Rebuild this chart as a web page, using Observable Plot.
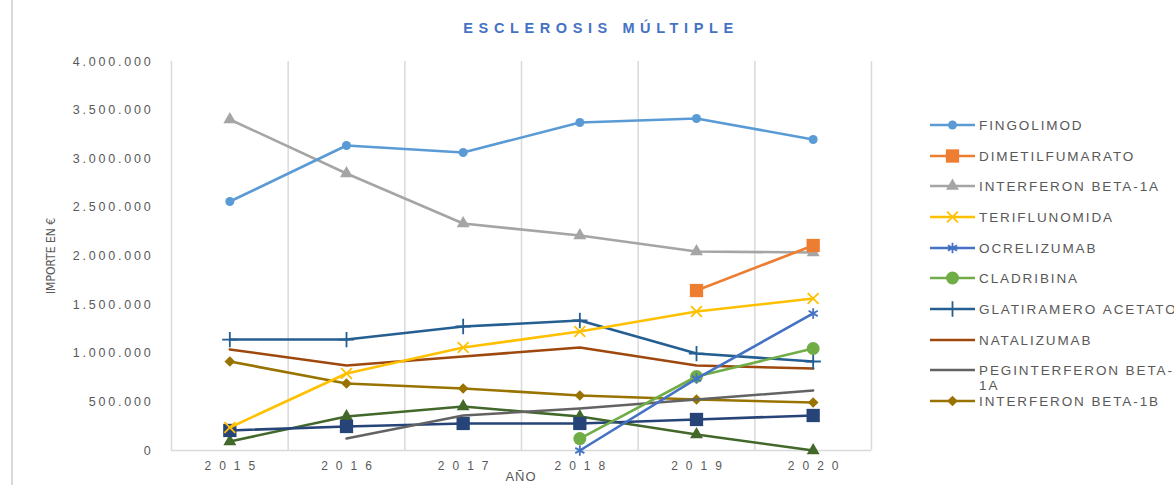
<!DOCTYPE html>
<html>
<head>
<meta charset="utf-8">
<script src="https://cdn.jsdelivr.net/npm/d3@7"></script>
<script src="https://cdn.jsdelivr.net/npm/@observablehq/plot@0.6"></script>
<style>
html,body{margin:0;padding:0;background:#fff;overflow:hidden}
#wrap{position:relative;width:1174px;height:485px;overflow:hidden;font-family:Arial,"Liberation Sans",sans-serif;color:#595959}
#frame{position:absolute;left:11px;top:-5px;width:1300px;height:600px;border-left:2px solid #d9d9d9}
#title{position:absolute;left:14px;top:20px;width:1174px;text-align:center;font-size:14.5px;font-weight:bold;letter-spacing:5.6px;color:#4472C4}
#chart{position:absolute;left:0;top:0}
#ytitle{position:absolute;left:51px;top:256px;transform:translate(-50%,-50%) rotate(-90deg);font-family:"Liberation Sans Narrow","DejaVu Sans Condensed",Arial,sans-serif;font-size:12px;white-space:nowrap;color:#595959}
#xtitle{position:absolute;left:521px;top:469px;transform:translateX(-50%);font-size:13px;line-height:15px;letter-spacing:1px;color:#595959}
.lg{position:absolute;left:929px;height:18px;width:260px}
.lg svg{position:absolute;left:0;top:0}
.lg span{position:absolute;left:50px;top:0;width:194px;font-size:13.5px;line-height:15px;letter-spacing:1.9px;color:#595959;white-space:normal}
</style>
</head>
<body>
<div id="wrap">
  <div id="frame"></div>
  <div id="chart"></div>
  <div id="title">ESCLEROSIS MÚLTIPLE</div>
  <div id="ytitle">IMPORTE EN €</div>
  <div id="xtitle">AÑO</div>
  <div id="legend"></div>
</div>
<script>
// ---- Data ----
const years = [2015, 2016, 2017, 2018, 2019, 2020];
const yTicks = [0, 500000, 1000000, 1500000, 2000000, 2500000, 3000000, 3500000, 4000000];

const fingolimod       = [2560000, 3136000, 3064000, 3373000, 3414000, 3198000];
const dimetilfumarato  = [null, null, null, null, 1645000, 2108000];
const interferonB1a    = [3404000, 2848000, 2334000, 2211000, 2046000, 2036000];
const teriflunomida    = [237000, 792000, 1059000, 1224000, 1429000, 1563000];
const ocrelizumab      = [null, null, null, 0, 740000, 1409000];
const cladribina       = [null, null, null, 123000, 761000, 1049000];
const glatiramero      = [1141000, 1141000, 1275000, 1337000, 997000, 915000];
const natalizumab      = [1039000, 874000, 967000, 1059000, 874000, 843000];
const peginterferon    = [null, 123000, 360000, 432000, 524000, 617000];
const interferonB1b    = [915000, 689000, 638000, 566000, 524000, 494000];
const serie11          = [206000, 247000, 278000, 278000, 319000, 360000];
const serie12          = [93000, 350000, 452000, 350000, 165000, 0];

const seriesNames = ["FINGOLIMOD", "DIMETILFUMARATO", "INTERFERON BETA-1A", "TERIFLUNOMIDA",
  "OCRELIZUMAB", "CLADRIBINA", "GLATIRAMERO ACETATO", "NATALIZUMAB",
  "PEGINTERFERON BETA-1A", "INTERFERON BETA-1B", "SERIE 11", "SERIE 12"];
const seriesValues = [fingolimod, dimetilfumarato, interferonB1a, teriflunomida,
  ocrelizumab, cladribina, glatiramero, natalizumab, peginterferon, interferonB1b, serie11, serie12];
const seriesColors = ["#5B9BD5", "#ED7D31", "#A5A5A5", "#FFC000", "#4472C4", "#70AD47",
  "#255E91", "#9E480E", "#636363", "#997300", "#264478", "#43682B"];
const seriesSymbols = ["circle", "square", "triangle", "times", "asterisk", "circle",
  "plus", null, null, "diamond2", "square", "triangle"];
const seriesR = [4.5, 7.5, 4.8, 5, 5, 6.5, 5, 0, 0, 4.8, 7.5, 4.8];
const legendCount = 10;

// ---- Build rows ----
const rows = [];
seriesNames.forEach((name, i) => {
  seriesValues[i].forEach((v, j) => {
    if (v != null) rows.push({serie: name, year: years[j], value: v});
  });
});
const gridX = [years[0] - 0.5, ...years.map(y => y + 0.5)];

const locale = d3.formatLocale({decimal: ",", thousands: ".", grouping: [3], currency: ["", "€"]});
const fmt = locale.format(",.0f");
const strokeSymbols = new Set(["times", "asterisk", "plus"]);

const marks = [
  Plot.ruleX(gridX.slice(1), {stroke: "#d9d9d9", strokeWidth: 1.5}),
  Plot.ruleX(gridX.slice(0, 1), {stroke: "#d9d9d9", strokeWidth: 1.5}),
  Plot.ruleY([0], {stroke: "#d9d9d9", strokeWidth: 1.5})
];
const order = [11, 10, 9, 8, 7, 6, 5, 4, 3, 2, 1, 0];
order.forEach(i => {
  const name = seriesNames[i];
  const data = rows.filter(d => d.serie === name);
  marks.push(Plot.line(data, {x: "year", y: "value", stroke: seriesColors[i], strokeWidth: 2.6}));
  const s = seriesSymbols[i];
  if (s) {
    if (strokeSymbols.has(s)) {
      marks.push(Plot.dot(data, {x: "year", y: "value", symbol: () => s, r: seriesR[i], stroke: seriesColors[i], strokeWidth: 1.8, fill: "none"}));
    } else {
      marks.push(Plot.dot(data, {x: "year", y: "value", symbol: () => s, r: seriesR[i], fill: seriesColors[i], stroke: "none"}));
    }
  }
});

const chart = Plot.plot({
  width: 900,
  height: 485,
  marginLeft: 171,
  marginRight: 29,
  marginTop: 61,
  marginBottom: 35,
  style: {fontFamily: "Arial, 'Liberation Sans', sans-serif", fontSize: "12px", color: "#595959", background: "transparent", overflow: "visible"},
  x: {type: "linear", domain: [years[0] - 0.5, years[years.length - 1] + 0.5], ticks: years, tickFormat: d => String(d), tickSize: 0, tickPadding: 11, label: null},
  y: {domain: [0, 4000000], ticks: yTicks, tickFormat: fmt, tickSize: 0, tickPadding: 20, label: null},
  symbol: {type: "identity"},
  marks
});
document.getElementById("chart").appendChild(chart);

// axis label styling
d3.select(chart).selectAll('[aria-label="x-axis tick label"] text').style("letter-spacing", "8px").attr("dx", 4).style("font-size", "12px");
d3.select(chart).selectAll('[aria-label="y-axis tick label"] text').style("letter-spacing", "2.8px").attr("dx", 2).style("font-size", "12.5px");

// ---- Legend ----
const legend = document.getElementById("legend");
const symMap = {circle: d3.symbolCircle, square: d3.symbolSquare, triangle: d3.symbolTriangle,
  times: d3.symbolTimes, asterisk: d3.symbolAsterisk, plus: d3.symbolPlus, diamond2: d3.symbolDiamond2};
for (let i = 0; i < legendCount; i++) {
  const div = document.createElement("div");
  div.className = "lg";
  div.style.top = (125 + i * 30.65 - 9) + "px";
  const svg = d3.create("svg").attr("width", 48).attr("height", 18);
  svg.append("line").attr("x1", 1).attr("x2", 46).attr("y1", 9).attr("y2", 9)
    .attr("stroke", seriesColors[i]).attr("stroke-width", 2.6);
  const s = seriesSymbols[i];
  if (s) {
    const r = seriesR[i];
    const p = d3.symbol(symMap[s], Math.PI * r * r)();
    const path = svg.append("path").attr("d", p).attr("transform", "translate(23.5,9)");
    if (strokeSymbols.has(s)) path.attr("fill", "none").attr("stroke", seriesColors[i]).attr("stroke-width", 1.8);
    else path.attr("fill", seriesColors[i]);
  }
  div.appendChild(svg.node());
  const span = document.createElement("span");
  span.style.top = "2px";
  span.textContent = seriesNames[i].replace(/ /g, "\u00a0");
  div.appendChild(span);
  legend.appendChild(div);
}
</script>
</body>
</html>
